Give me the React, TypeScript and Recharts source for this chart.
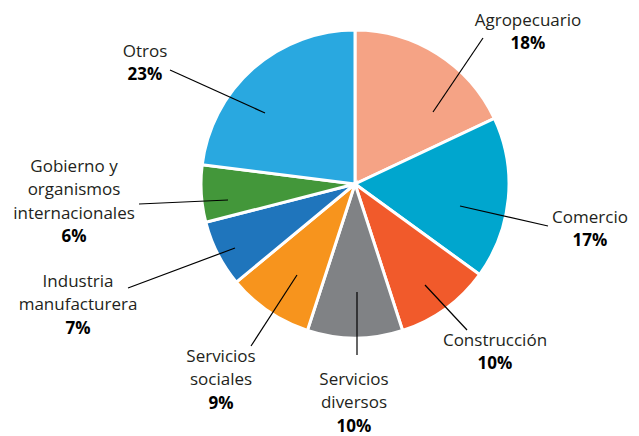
import { PieChart, Pie, Cell } from "recharts";

const sectors = [
  "Agropecuario",
  "Comercio",
  "Construcción",
  "Servicios diversos",
  "Servicios sociales",
  "Industria manufacturera",
  "Gobierno y organismos internacionales",
  "Otros",
];
const shares = [18, 17, 10, 10, 9, 7, 6, 23];
const labelLines = [
  ["Agropecuario"],
  ["Comercio"],
  ["Construcción"],
  ["Servicios", "diversos"],
  ["Servicios", "sociales"],
  ["Industria", "manufacturera"],
  ["Gobierno y", "organismos", "internacionales"],
  ["Otros"],
];

const colors = ["#F5A385", "#00A6CE", "#F15A2B", "#808285", "#F7941D", "#1F75BC", "#43973A", "#29A8E0"];

// leader line start/end and label anchor, relative to pie centre
const layout = [
  { from: [78, -72], to: [128, -146], text: [173, -158] },
  { from: [105, 22], to: [193, 42], text: [235, 39] },
  { from: [70, 101], to: [112, 146], text: [140, 162] },
  { from: [2, 108], to: [2, 171], text: [-1, 201] },
  { from: [-58, 91], to: [-104, 162], text: [-134, 178] },
  { from: [-120, 64], to: [-227, 104], text: [-277, 103] },
  { from: [-127, 16], to: [-216, 20], text: [-281, -12] },
  { from: [-90, -71], to: [-185, -114], text: [-210, -127] },
];

const data = sectors.map((name, i) => ({ name, value: shares[i] }));

const FONT = "'Open Sans', sans-serif";

function renderLabel(props: any) {
  const { cx, cy, index } = props;
  const l = layout[index];
  const lines = labelLines[index];
  const tx = cx + l.text[0];
  const ty = cy + l.text[1];
  return (
    <g key={`lbl-${index}`}>
      <line
        x1={cx + l.from[0]}
        y1={cy + l.from[1]}
        x2={cx + l.to[0]}
        y2={cy + l.to[1]}
        stroke="#000"
        strokeWidth={1.2}
      />
      <text x={tx} y={ty} textAnchor="middle" fontFamily={FONT} fontSize={17} fill="#231F20">
        {lines.map((t, j) => (
          <tspan key={j} x={tx} dy={j === 0 ? 0 : 23.3}>
            {t}
          </tspan>
        ))}
        <tspan x={tx} dy={23.3} fontWeight="bold" fill="#000">
          {shares[index]}%
        </tspan>
      </text>
    </g>
  );
}

export default function App() {
  return (
    <div style={{ position: "absolute", left: 0, top: 0 }}>
      <PieChart width={639} height={436} margin={{ top: 0, right: 0, bottom: 0, left: 0 }}>
        <Pie
          data={data}
          dataKey="value"
          nameKey="name"
          cx={355}
          cy={184}
          outerRadius={154}
          startAngle={90}
          endAngle={-270}
          stroke="#fff"
          strokeWidth={3}
          label={renderLabel}
          labelLine={false}
          isAnimationActive={false}
        >
          {data.map((d, i) => (
            <Cell key={d.name} fill={colors[i]} />
          ))}
        </Pie>
      </PieChart>
    </div>
  );
}
